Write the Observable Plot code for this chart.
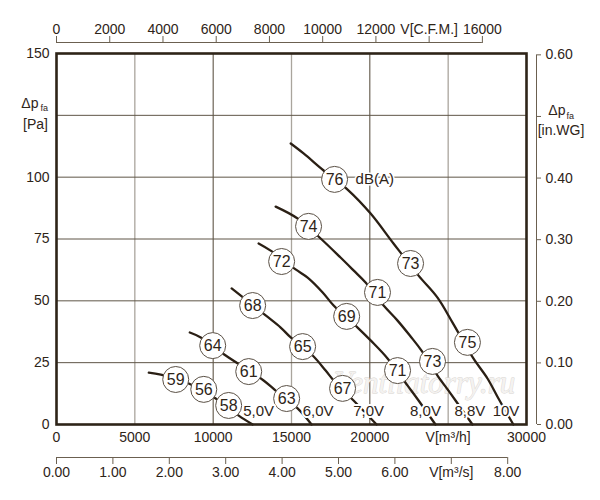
<!DOCTYPE html>
<html><head><meta charset="utf-8">
<script src="https://cdn.jsdelivr.net/npm/d3@7"></script>
<script src="https://cdn.jsdelivr.net/npm/@observablehq/plot@0.6"></script>
<style>body{margin:0;background:#fff}</style>
</head><body><div id="chart"></div>
<script>
// unit conversions (to m³/h and Pa)
const CFM = 1.699;
const INWG = 249.089;
const M3S = 3600;

const xDomain = [0, 30000];
const yDomain = [0, 150];

const xTicks = [0, 5000, 10000, 15000, 20000, 25000, 30000];
const xTickLabels = ["0", "5000", "10000", "15000", "20000", "V[m³/h]", "30000"];
const yTicks = [0, 25, 50, 75, 100, 125, 150];
const yTickLabels = ["0", "25", "50", "75", "100", "", "150"];
const cfmTicks = [0, 2000, 4000, 6000, 8000, 10000, 12000, 14000, 16000];
const cfmTickLabels = ["0", "2000", "4000", "6000", "8000", "10000", "12000", "V[C.F.M.]", "16000"];
const m3sTicks = [0, 1, 2, 3, 4, 5, 6, 7, 8];
const m3sTickLabels = ["0.00", "1.00", "2.00", "3.00", "4.00", "5.00", "6.00", "V[m³/s]", "8.00"];
const inwgTicks = [0, 0.1, 0.2, 0.3, 0.4, 0.5, 0.6];
const inwgTickLabels = ["0.00", "0.10", "0.20", "0.30", "0.40", "", "0.60"];
const gridXLight = [5000, 15000, 25000];
const gridXDark = [10000, 20000];
const gridY = [25, 50, 75, 100, 125];

const voltages = ["5,0V", "6,0V", "7,0V", "8,0V", "8,8V", "10V"];

// characteristic curves [V m³/h, Δp Pa]
const curve5V = [[5890,21.0],[6660,20.2],[8440,16.6],[10160,10.5],[11630,3.6],[12520,0]];
const curve6V = [[8510,37.2],[9210,35.2],[10800,27.9],[13220,17.8],[13990,13.7],[15390,6.5],[16280,0]];
const curve7V = [[11180,55.0],[13350,44.1],[14310,39.2],[14950,35.2],[16350,27.9],[17180,21.8],[17690,17.8],[18960,9.7],[20430,0]];
const curve8V = [[12900,73.2],[13670,70.3],[15260,62.7],[16030,59.4],[16990,53.4],[17690,48.1],[19220,39.2],[20050,34.0],[21130,26.7],[22400,15.8],[23110,9.7],[24190,0]];
const curve88V = [[13990,88.1],[15390,83.3],[16860,75.2],[18130,67.5],[18960,62.3],[19730,57.4],[20880,48.1],[21770,42.0],[22600,35.6],[23300,29.9],[24320,19.8],[25020,13.7],[25470,9.7],[26550,0]];
const curve10V = [[14950,113.6],[15770,109.6],[17050,102.7],[18580,95.0],[20050,85.3],[21510,73.2],[23110,60.2],[24320,51.3],[25280,41.2],[26610,26.7],[27510,18.6],[28210,10.5],[29160,0]];

// sound level markers [V, Δp, dB(A)]
const db5V = [[7610,18.2,59],[9400,14.2,56],[10990,7.7,58]];
const db6V = [[9970,31.9,64],[12270,21.4,61],[14690,10.5,63]];
const db7V = [[12520,48.1,68],[15710,31.5,65],[18260,14.6,67]];
const db8V = [[14370,65.9,72],[18520,43.7,69],[21770,21.8,71]];
const db88V = [[16090,80.1,74],[20490,53.4,71],[24000,25.5,73]];
const db10V = [[17750,99.1,76],[22600,65.1,73],[26230,33.2,75]];

// voltage label positions [V, Δp]
const voltageLabelX = [12900, 16700, 19920, 23550, 26390, 28690];
const voltageLabelY = 5.5;

const curves = [curve5V, curve6V, curve7V, curve8V, curve88V, curve10V];
const dbs = [db5V, db6V, db7V, db8V, db88V, db10V];
const lineData = curves.flatMap((c, i) => c.map(([x, y]) => ({x, y, v: voltages[i]})));
const dbData = dbs.flatMap((c, i) => c.map(([x, y, db]) => ({x, y, db, v: voltages[i]})));
const vLabels = voltages.map((v, i) => ({v, x: voltageLabelX[i], y: voltageLabelY}));

const cfmTicksH = cfmTicks.map(d => d * CFM);
const m3sTicksH = m3sTicks.map(d => d * M3S);
const inwgTicksPa = inwgTicks.map(d => d * INWG);

const ink = "#2e2418";
const axisInk = "#6b6050";

const chart = Plot.plot({
  width: 600,
  height: 500,
  marginLeft: 56,
  marginRight: 74,
  marginTop: 53,
  marginBottom: 76,
  style: {fontFamily: "'Liberation Sans', Arial, sans-serif", fontSize: "14px", color: ink, background: "#fff"},
  x: {domain: xDomain, axis: null},
  y: {domain: yDomain, axis: null},
  marks: [
    Plot.ruleX(gridXLight, {stroke: "#aaa59d", strokeWidth: 1.3}),
    Plot.ruleX(gridXDark, {stroke: "#4f4535", strokeWidth: 1}),
    Plot.ruleY(gridY, {stroke: "#5e5546", strokeWidth: 1}),
    Plot.text(["Ventilatorry.ru"], {frameAnchor: "bottom-right", dx: -102, dy: -32, text: d => d,
      fontFamily: "'Liberation Serif', serif", fontStyle: "italic", fontSize: 31,
      fill: "#f4f2f0", stroke: "#d6d2ce", strokeWidth: 0.8, textAnchor: "middle"}),
    Plot.line(lineData, {x: "x", y: "y", z: "v", curve: "catmull-rom", stroke: "#2a1f14", strokeWidth: 2.3}),
    Plot.dot(dbData, {x: "x", y: "y", r: 13, fill: "white", stroke: "#5a5045", strokeWidth: 1}),
    Plot.text(dbData, {x: "x", y: "y", text: d => String(d.db), fontSize: 16, fill: ink}),
    Plot.text([db10V[0]], {x: d => d[0], y: d => d[1], text: () => "dB(A)", dx: 21, textAnchor: "start",
      fontSize: 15, fill: ink, stroke: "white", strokeWidth: 3}),
    Plot.text(vLabels, {x: "x", y: "y", text: "v", fontSize: 15, fill: ink, stroke: "white", strokeWidth: 4}),
    Plot.frame({stroke: ink, strokeWidth: 2.6}),
    // main bottom axis (m³/h)
    Plot.axisX(xTicks, {anchor: "bottom", tickSize: 0, tickPadding: 8, fontSize: 14, fill: ink, label: null,
      tickFormat: d => xTickLabels[xTicks.indexOf(d)]}),
    // left axis (Pa)
    Plot.axisY(yTicks, {anchor: "left", tickSize: 0, tickPadding: 7, fontSize: 14, fill: ink, label: null,
      tickFormat: d => yTickLabels[yTicks.indexOf(d)]}),
    Plot.text(["Δp"], {y: yTicks[5], frameAnchor: "left", dx: -18, dy: -12, textAnchor: "end", text: d => d, fontSize: 14, fill: ink}),
    Plot.text(["fa"], {y: yTicks[5], frameAnchor: "left", dx: -16, dy: -7, textAnchor: "start", text: d => d, fontSize: 9, fill: ink}),
    Plot.text(["[Pa]"], {y: yTicks[5], frameAnchor: "left", dx: -21, dy: 9, textAnchor: "middle", text: d => d, fontSize: 14, fill: ink}),
    // top axis (CFM)
    Plot.ruleY([yDomain[1]], {x1: 0, x2: cfmTicksH[cfmTicksH.length - 1], dy: -11, stroke: axisInk}),
    Plot.axisX(cfmTicksH, {anchor: "top", dy: -11, tickSize: 7, tickPadding: 2, fontSize: 14, stroke: axisInk, fill: ink, label: null,
      tickFormat: d => cfmTickLabels[cfmTicksH.indexOf(d)]}),
    // second bottom axis (m³/s)
    Plot.ruleY([yDomain[0]], {x1: 0, x2: m3sTicksH[m3sTicksH.length - 1], dy: 33, stroke: axisInk}),
    Plot.axisX(m3sTicksH, {anchor: "bottom", dy: 33, tickSize: 7, tickPadding: 3, fontSize: 14, stroke: axisInk, fill: ink, label: null,
      tickFormat: d => m3sTickLabels[m3sTicksH.indexOf(d)]}),
    // right axis (in.WG)
    Plot.ruleX([xDomain[1]], {y1: 0, y2: inwgTicksPa[inwgTicksPa.length - 1], dx: 10, stroke: axisInk}),
    Plot.axisY(inwgTicksPa, {anchor: "right", dx: 10, tickSize: 4, tickPadding: 5, fontSize: 14, stroke: axisInk, fill: ink, label: null,
      tickFormat: d => inwgTickLabels[inwgTicksPa.indexOf(d)]}),
    Plot.text(["Δp"], {y: inwgTicksPa[5], frameAnchor: "right", dx: 39, dy: -5.5, textAnchor: "end", text: d => d, fontSize: 14, fill: ink}),
    Plot.text(["fa"], {y: inwgTicksPa[5], frameAnchor: "right", dx: 40, dy: 0, textAnchor: "start", text: d => d, fontSize: 9, fill: ink}),
    Plot.text(["[in.WG]"], {y: inwgTicksPa[5], frameAnchor: "right", dx: 34.5, dy: 14.5, textAnchor: "middle", text: d => d, fontSize: 14, fill: ink})
  ]
});
document.getElementById("chart").appendChild(chart);
</script>
</body></html>
